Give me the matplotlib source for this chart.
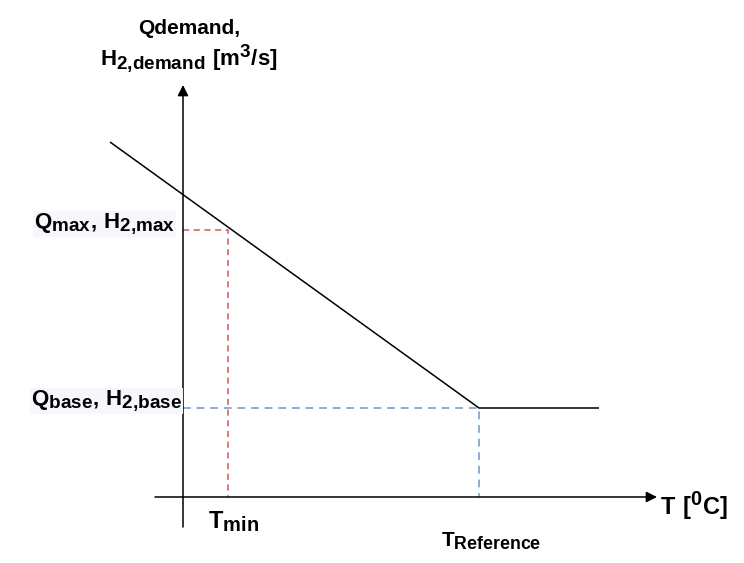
"""Schematic: heat demand vs outdoor temperature."""
import matplotlib
matplotlib.use("Agg")
import matplotlib.pyplot as plt
from matplotlib import _mathtext

plt.rcParams['font.family'] = ['Liberation Sans', 'DejaVu Sans']
plt.rcParams['mathtext.fontset'] = 'custom'
plt.rcParams['mathtext.rm'] = 'Liberation Sans:bold'
plt.rcParams['mathtext.bf'] = 'Liberation Sans:bold'
# the drawing uses larger sub/superscripts than mathtext's default
_mathtext.SHRINK_FACTOR = 0.85

# schematic units, origin where the two axes cross
T_START = -73
T_MIN = 45
T_REF = 296
T_END = 416
Q_START = 355
Q_MAX = 267
Q_BASE = 89

demand_T = [T_START, T_REF, T_END]
demand_Q = [Q_START, Q_BASE, Q_BASE]

x_axis = [-28, 474]
y_axis = [-30, 412]

RED = '#d0575a'
BLUE = '#8eaad8'


def main():
    fig = plt.figure(figsize=(7.44, 5.63), dpi=100)
    ax = fig.add_axes([0, 0, 1, 1])
    ax.set_xlim(-183, 561)
    ax.set_ylim(-66, 497)
    ax.axis('off')

    # axes with arrow heads
    ax.annotate('', xy=(x_axis[1], 0), xytext=(x_axis[0], 0),
                arrowprops=dict(arrowstyle='-|>', color='black', lw=1.1,
                                mutation_scale=16, shrinkA=0, shrinkB=0))
    ax.annotate('', xy=(0, y_axis[1]), xytext=(0, y_axis[0]),
                arrowprops=dict(arrowstyle='-|>', color='black', lw=1.1,
                                mutation_scale=16, shrinkA=0, shrinkB=0))

    # demand curve
    ax.plot(demand_T, demand_Q, color='black', lw=1.1, solid_capstyle='butt')

    # guide lines
    ax.plot([0, T_MIN, T_MIN], [Q_MAX, Q_MAX, 0], color=RED, lw=1.1,
            dashes=(4, 3))
    ax.plot([0, T_REF, T_REF], [Q_BASE, Q_BASE, 0], color=BLUE, lw=1.4,
            dashes=(4, 3))

    # labels
    bg = dict(facecolor='#f5f7fa', edgecolor='none', pad=0.5)
    ax.text(-8, Q_MAX + 6, r'$\mathbf{Q_{max}{,}\ H_{2{,}max}}$',
            ha='right', va='center', fontsize=16, bbox=bg)
    ax.text(-1, Q_BASE + 7, r'$\mathbf{Q_{base}{,}\ H_{2{,}base}}$',
            ha='right', va='center', fontsize=16, bbox=bg)
    ax.text(6, 469, 'Qdemand,', ha='center', va='center', fontsize=15,
            fontweight='bold')
    ax.text(6, 439, r'$\mathbf{H_{2{,}demand}\ [m^3/s]}$',
            ha='center', va='center', fontsize=16)
    ax.text(T_MIN + 6, -25, r'$\mathbf{T_{min}}$', ha='center', va='center',
            fontsize=17)
    ax.text(T_REF + 12, -44, r'$\mathbf{T_{Reference}}$', ha='center',
            va='center', fontsize=15)
    ax.text(x_axis[1] + 3, -9, r'$\mathbf{T\ [^0C]}$', ha='left',
            va='center', fontsize=17)

    fig.savefig('out.png', dpi=100)
    plt.close(fig)


if __name__ == "__main__":
    main()
